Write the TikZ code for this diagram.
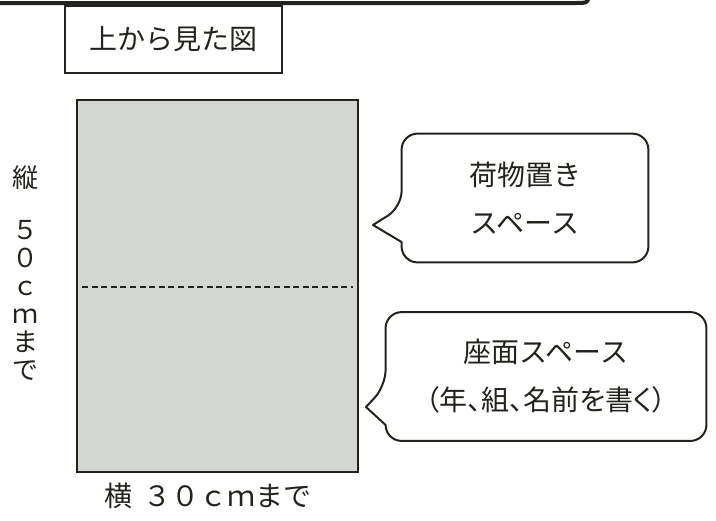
\documentclass[tikz,border=0pt]{standalone}
\usepackage{fontspec}
\newfontfamily\jp{Noto Sans CJK JP}
\newfontfamily\jpp[RawFeature=+palt]{Noto Sans CJK JP}
\usetikzlibrary{positioning}
\definecolor{seatgray}{RGB}{212,214,210}
\definecolor{ink}{RGB}{35,35,30}
\tikzstyle{label} = [font=\jp\fontsize{14}{24}\selectfont, text=ink, align=center, inner sep=0pt]
\tikzstyle{titlebox} = [label, rectangle, draw=ink, line width=0.75pt, minimum width=108.5pt, minimum height=33.5pt]
\tikzstyle{seatbox} = [rectangle, draw=ink, fill=seatgray, line width=1pt, minimum width=140.5pt, minimum height=186pt]
\tikzstyle{balloon} = [label, rectangle, minimum height=64pt]
\tikzstyle{outline} = [draw=ink, line width=1pt, line join=round]

\begin{document}
\begin{tikzpicture}[x=0.5pt, y=-0.5pt]
	\useasboundingbox (0,0) rectangle (716,520);
	% frame edge of the sheet above
	\draw[ink, line width=2pt] (0,3) -- (576,3) .. controls (588,3) .. (590,-8);

	\node (topview) at (173.5, 39.5) [titlebox] {上から見た図};
	\node (seat) at (217.5, 286) [seatbox] {};
	\draw[ink, line width=0.6pt, dash pattern=on 3pt off 1.8pt] ([xshift=3pt, yshift=-0.5pt]seat.west) -- ([xshift=-3pt, yshift=-0.5pt]seat.east);

	\node (height) at (25, 273) [label, font=\jp\fontsize{13}{14}\selectfont] {縦\\[12pt]５\\０\\ｃ\\ｍ\\ま\\で};
	\node (width) at (208, 496) [label] {横\hspace{6pt}３０ｃｍまで};

	% speech balloons
	\node (cargo) at (525, 198) [balloon, minimum width=123pt] {荷物置き\\スペース};
	\coordinate (cargotip) at (373, 225);
	\draw[outline] ([yshift=-4.5pt]cargo.west) -- (cargotip) -- ([yshift=-22pt]cargo.west) [rounded corners=8pt] -- (cargo.south west) -- (cargo.south east) -- (cargo.north east) -- (cargo.north west) -- cycle;

	\node (seating) at (546, 376.5) [balloon, minimum width=160pt] {座面スペース\\{\jpp （年、組、名前を書く）}};
	\coordinate (seatingtip) at (366, 407);
	\draw[outline] ([yshift=-4.75pt]seating.west) -- (seatingtip) -- ([yshift=-24.25pt]seating.west) [rounded corners=8pt] -- (seating.south west) -- (seating.south east) -- (seating.north east) -- (seating.north west) -- cycle;
\end{tikzpicture}
\end{document}
